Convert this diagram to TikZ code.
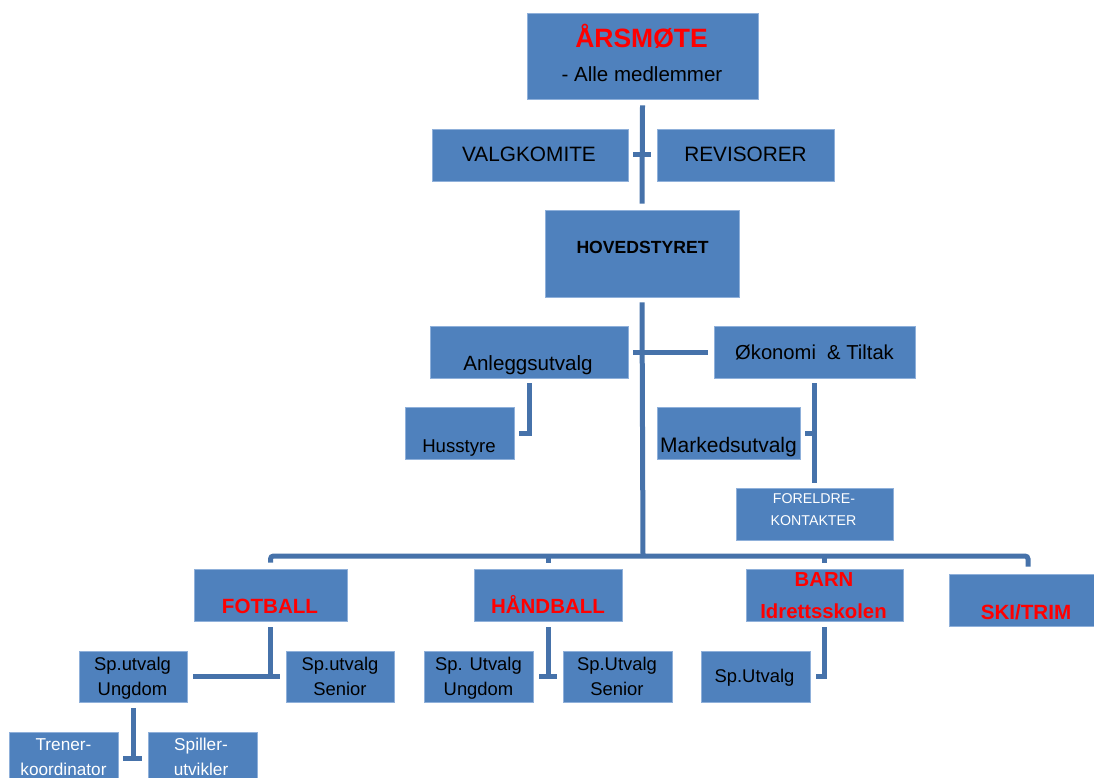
\documentclass[tikz,border=0pt]{standalone}
\usepackage{fontspec}
\setmainfont{Liberation Sans}
\definecolor{boxblue}{HTML}{4F81BD}
\definecolor{boxedge}{HTML}{8FB0DA}
\definecolor{linecol}{HTML}{4672AA}
\definecolor{redtxt}{HTML}{FF0000}
\newcommand{\fsz}[1]{\fontsize{#1}{#1}\selectfont}
\tikzset{
  box/.style={fill=boxblue, draw=boxedge, line width=0.8pt, inner sep=0pt, rectangle},
  conn/.style={draw=linecol, line width=5pt},
  lbl/.style={anchor=base, inner sep=0pt, text=black},
  redlbl/.style={anchor=base, inner sep=0pt, text=redtxt, font=\bfseries},
  whitelbl/.style={anchor=base, inner sep=0pt, text=white},
}
\begin{document}
\begin{tikzpicture}[x=1pt,y=-1pt]
\useasboundingbox (0,0) rectangle (1094,778);
\clip (0,0) rectangle (1094,778);
\fill[white] (0,0) rectangle (1094,778);

% boxes
\node[box, minimum width=231pt, minimum height=86pt] (aars) at (642.5,56) {};
\node[box, minimum width=196pt, minimum height=52pt] (valg) at (530,155) {};
\node[box, minimum width=177pt, minimum height=52pt] (rev) at (745.5,155) {};
\node[box, minimum width=194pt, minimum height=87pt] (hov) at (642,253.5) {};
\node[box, minimum width=198pt, minimum height=52pt] (anl) at (529,352) {};
\node[box, minimum width=201pt, minimum height=52pt] (oko) at (814.5,352) {};
\node[box, minimum width=109pt, minimum height=52pt] (hus) at (459.5,433) {};
\node[box, minimum width=143pt, minimum height=52pt] (mkt) at (728.5,433) {};
\node[box, minimum width=157pt, minimum height=52pt] (fk) at (814.5,514) {};
\node[box, minimum width=153pt, minimum height=52pt] (fot) at (270.5,595) {};
\node[box, minimum width=148pt, minimum height=52pt] (hand) at (548,595) {};
\node[box, minimum width=157pt, minimum height=52pt] (barn) at (824.5,595) {};
\node[box, minimum width=158pt, minimum height=52pt] (ski) at (1028,600) {};
\node[box, minimum width=108pt, minimum height=51pt] (fu) at (133,676.5) {};
\node[box, minimum width=108pt, minimum height=51pt] (fs) at (340,676.5) {};
\node[box, minimum width=109pt, minimum height=51pt] (hu) at (478.5,676.5) {};
\node[box, minimum width=109pt, minimum height=51pt] (hs) at (617.5,676.5) {};
\node[box, minimum width=109pt, minimum height=51pt] (bsp) at (755.5,676.5) {};
\node[box, minimum width=109pt, minimum height=52pt] (tr) at (63.5,758) {};
\node[box, minimum width=109pt, minimum height=52pt] (spu) at (202.5,758) {};

% labels
\node[redlbl, font=\bfseries\fsz{26.5}] (aarsA) at (641.5,48) {ÅRSMØTE};
\node[lbl, font=\fsz{20.5}] (aarsB) at (642,82) {- Alle medlemmer};
\node[lbl, font=\fsz{20.8}] (valgT) at (529,162) {VALGKOMITE};
\node[lbl, font=\fsz{20.8}] (revT) at (745.5,162) {REVISORER};
\node[lbl, font=\bfseries\fsz{17.6}] (hovT) at (642.5,253) {HOVEDSTYRET};
\node[lbl, font=\fsz{20.6}] (anlT) at (528,370) {Anleggsutvalg};
\node[lbl, font=\fsz{20.2}] (okoT) at (814.5,359) {Økonomi\ \ \& Tiltak};
\node[lbl, font=\fsz{18.6}] (husT) at (459,452) {Husstyre};
\node[lbl, font=\fsz{21}] (mktT) at (728.5,452) {Markedsutvalg};
\node[whitelbl, font=\fsz{14.2}] (fkA) at (814,503) {FORELDRE-};
\node[whitelbl, font=\fsz{14.2}] (fkB) at (813.5,525) {KONTAKTER};
\node[redlbl, font=\bfseries\fsz{20.6}] (fotT) at (270,613) {FOTBALL};
\node[redlbl, font=\bfseries\fsz{20.5}] (handT) at (548,613) {HÅNDBALL};
\node[redlbl, font=\bfseries\fsz{20.3}] (barnA) at (824,586) {BARN};
\node[redlbl, font=\bfseries\fsz{20.3}] (barnB) at (823.5,618) {Idrettsskolen};
\node[redlbl, font=\bfseries\fsz{20.6}] (skiT) at (1026,619) {SKI/TRIM};
\node[lbl, font=\fsz{18.4}] (fuA) at (132.5,670) {Sp.utvalg};
\node[lbl, font=\fsz{18.4}] (fuB) at (132.5,695) {Ungdom};
\node[lbl, font=\fsz{18.4}] (fsA) at (340,670) {Sp.utvalg};
\node[lbl, font=\fsz{18.4}] (fsB) at (340,695) {Senior};
\node[lbl, font=\fsz{18.4}] (huA) at (478.5,670) {Sp. Utvalg};
\node[lbl, font=\fsz{18.4}] (huB) at (478.5,695) {Ungdom};
\node[lbl, font=\fsz{18.4}] (hsA) at (617,670) {Sp.Utvalg};
\node[lbl, font=\fsz{18.4}] (hsB) at (617,695) {Senior};
\node[lbl, font=\fsz{18.4}] (bspT) at (754.5,682) {Sp.Utvalg};
\node[whitelbl, font=\fsz{17.2}] (trA) at (63.5,750) {Trener-};
\node[whitelbl, font=\fsz{17.2}] (trB) at (63.5,775) {koordinator};
\node[whitelbl, font=\fsz{17.2}] (spA) at (201,750) {Spiller-};
\node[whitelbl, font=\fsz{17.2}] (spB) at (201,775) {utvikler};

% connectors
\coordinate (bus) at (643,556);
\draw[conn] ([yshift=-6pt]aars.south) -- ([yshift=6pt]hov.north);
\draw[conn] ([xshift=5pt]valg.east) -- ([xshift=-6pt]rev.west);
\draw[conn] ([yshift=-5pt]hov.south) -- (bus);
\draw[conn] ([xshift=5pt]anl.east) -- ([xshift=-6pt]oko.west);
\draw[conn] ([yshift=-5pt]anl.south) |- ([xshift=5pt]hus.east);
\draw[conn] ([yshift=-5pt]oko.south) -- ([yshift=5pt]fk.north);
\draw[conn] ([xshift=5pt]mkt.east) -- (mkt.east -| oko.south);
\draw[conn, rounded corners=3pt] ([yshift=6pt]fot.north) |- (bus) -| ([yshift=7pt]ski.north);
\draw[conn] ([yshift=6pt]hand.north) -- (hand.north |- bus);
\draw[conn] ([yshift=6pt]barn.north) -- (barn.north |- bus);
\draw[conn] ([yshift=-6pt]fot.south) -- (fot.south |- fu.east);
\draw[conn] ([xshift=6pt]fu.east) -- ([xshift=-6pt]fs.west);
\draw[conn] ([yshift=-6pt]hand.south) -- (hand.south |- hu.east);
\draw[conn] ([xshift=6pt]hu.east) -- ([xshift=-6pt]hs.west);
\draw[conn] ([yshift=-6pt]barn.south) |- ([xshift=6pt]bsp.east);
\draw[conn] ([yshift=-6pt]fu.south) -- (fu.south |- tr.east);
\draw[conn] ([xshift=5pt]tr.east) -- ([xshift=-6pt]spu.west);
\end{tikzpicture}
\end{document}
